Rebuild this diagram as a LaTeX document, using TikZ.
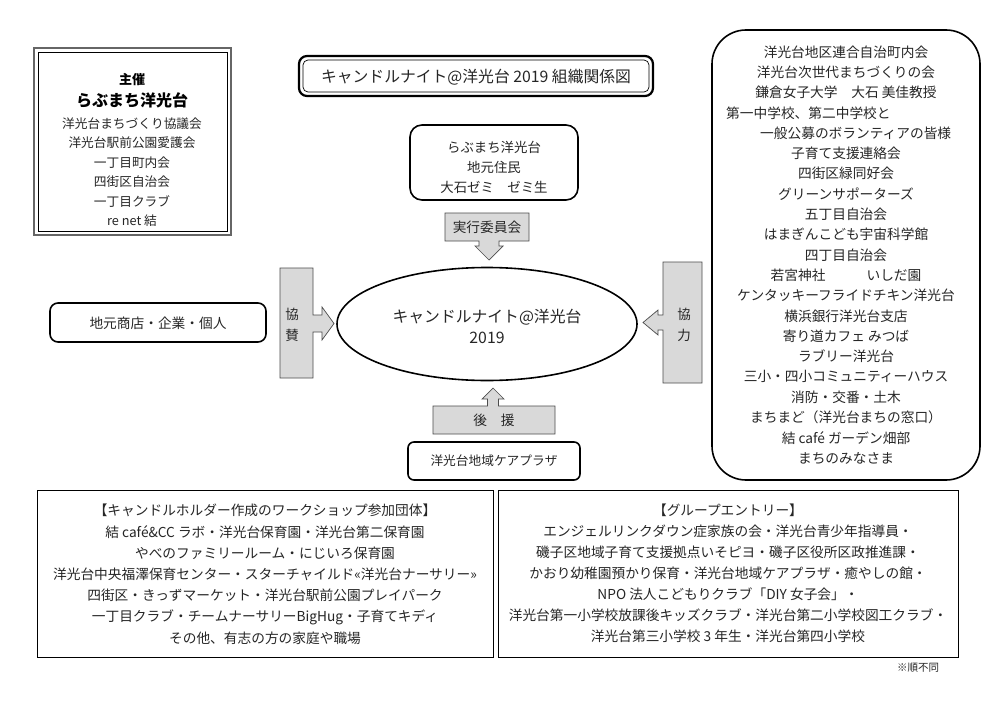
\documentclass[tikz,border=0pt]{standalone}
\usepackage{fontspec}
\setmainfont{Noto Sans CJK JP}
\usetikzlibrary{shapes.geometric,calc}
\begin{document}
\begin{tikzpicture}[x=1pt,y=-1pt,
  txt/.style={font=\fontsize{13.7}{20}\selectfont, text=black!85, inner sep=0pt},
  txts/.style={font=\fontsize{12.7}{20}\selectfont, text=black!85, inner sep=0pt},
  txtb/.style={font=\fontsize{13}{20}\selectfont\bfseries, text=black, inner sep=0pt},
  txtbig/.style={font=\fontsize{16}{20}\selectfont\bfseries, text=black, inner sep=0pt},
  rbox/.style={draw=black, line width=1.6pt, rounded corners=8pt},
  thinbox/.style={draw=black, line width=0.8pt},
  callout/.style={draw=black!70, fill=black!15, line width=0.7pt, line join=miter},
]
\useasboundingbox[fill=white] (0,0) rectangle (993,701);

% ---- left top box (organisers)
\draw[line width=2pt, draw=black!60] (34,48) rectangle (231,235);
\draw[line width=0.7pt] (38,52) rectangle (227,231);
\node[txtb] (shusai) at (132,80) {主催};
\node[txtbig] (rabu) at (132,100) {らぶまち洋光台};
\foreach \t [count=\i] in {洋光台まちづくり協議会,洋光台駅前公園愛護会,一丁目町内会,四街区自治会,一丁目クラブ,re net 結}
  \node[txts] (l\i) at (132,{123.5+(\i-1)*19.5}) {\t};

% ---- title
\draw[line width=2.2pt, rounded corners=8pt] (299,56) rectangle (653,96);
\draw[line width=0.7pt, rounded corners=5pt] (303,60) rectangle (649,92);
\node[txt, font=\fontsize{15.8}{20}\selectfont] (title) at (476,77) {キャンドルナイト@洋光台 2019 組織関係図};

% ---- center top box
\draw[rbox, rounded corners=12pt] (410,125) rectangle (578,200);
\node[txt, align=center, font=\fontsize{13.4}{20}\selectfont] (jimoto) at (494,167) {らぶまち洋光台\\地元住民\\大石ゼミ　ゼミ生};

% ---- callouts
\draw[callout] (445,213) -- (529,213) -- (529,241) -- (499,241) -- (499,246) -- (503,246) -- (489,260) -- (475,246) -- (479,246) -- (479,241) -- (445,241) -- cycle;
\node[txt] (jikko) at (487,227) {実行委員会};

\draw[callout] (433,406) -- (487.5,406) -- (487.5,399) -- (482,399) -- (493,388) -- (504,399) -- (498.5,399) -- (498.5,406) -- (555,406) -- (555,434) -- (433,434) -- cycle;
\node[txt] (koen) at (494,420.5) {後　援};

\draw[callout] (280,268) -- (313,268) -- (313,315) -- (322,315) -- (322,307) -- (334,323.5) -- (322,340) -- (322,332) -- (313,332) -- (313,378) -- (280,378) -- cycle;
\node[txt, align=center, font=\fontsize{13.5}{21}\selectfont] (kyosan) at (292,325) {協\\賛};

\draw[callout] (663,262) -- (702,262) -- (702,383) -- (663,383) -- (663,330) -- (658,330) -- (658,335) -- (643,322.5) -- (658,310) -- (658,315) -- (663,315) -- cycle;
\node[txt, align=center, font=\fontsize{13.5}{21}\selectfont] (kyoryoku) at (684,325) {協\\力};

% ---- ellipse
\node[draw, ellipse, line width=1.6pt, minimum width=300pt, minimum height=113pt, inner sep=0pt] (event) at (487,324) {};
\node[txt, align=center, font=\fontsize{15.8}{21}\selectfont] (eventtxt) at (487,326.5) {キャンドルナイト@洋光台\\2019};

% ---- left sponsor box
\draw[rbox] (50,303) rectangle (266,342);
\node[txt] (shoten) at (158,323) {地元商店・企業・個人};

% ---- care plaza box
\draw[rbox, rounded corners=6pt] (408,442) rectangle (580,480);
\node[txts] (care) at (494,461) {洋光台地域ケアプラザ};

% ---- right big box
\draw[draw=black, line width=1.6pt, rounded corners=34pt] (712,30) rectangle (980,480);
\foreach \t [count=\i] in {洋光台地区連合自治町内会,洋光台次世代まちづくりの会,鎌倉女子大学　大石 美佳教授}
  \node[txt] (ra\i) at (846,{52+(\i-1)*20.3}) {\t};
\node[txt, anchor=west] (ra4) at (726,112.9) {第一中学校、第二中学校と};
\node[txt, anchor=west] (ra5) at (760,133.2) {一般公募のボランティアの皆様};
\foreach \t [count=\i] in {子育て支援連絡会,四街区緑同好会,グリーンサポーターズ,五丁目自治会,はまぎんこども宇宙科学館,四丁目自治会,若宮神社　　　いしだ園,ケンタッキーフライドチキン洋光台,横浜銀行洋光台支店,寄り道カフェ みつば,ラブリー洋光台,三小・四小コミュニティーハウス,消防・交番・土木,まちまど（洋光台まちの窓口）,結 café ガーデン畑部,まちのみなさま}
  \node[txt] (rb\i) at (846,{153.5+(\i-1)*20.3}) {\t};

% ---- bottom boxes
\draw[thinbox] (37,490) rectangle (493,657);
\foreach \t [count=\i] in {【キャンドルホルダー作成のワークショップ参加団体】,結 café\&CC ラボ・洋光台保育園・洋光台第二保育園,やべのファミリールーム・にじいろ保育園,洋光台中央福澤保育センター・スターチャイルド«洋光台ナーサリー»,四街区・きっずマーケット・洋光台駅前公園プレイパーク,一丁目クラブ・チームナーサリーBigHug・子育てキディ,その他、有志の方の家庭や職場}
  \node[txt] (bl\i) at (265,{510.5+(\i-1)*21.3}) {\t};

\draw[thinbox] (498,490) rectangle (958,657);
\foreach \t [count=\i] in {【グループエントリー】,エンジェルリンクダウン症家族の会・洋光台青少年指導員・,磯子区地域子育て支援拠点いそピヨ・磯子区役所区政推進課・,かおり幼稚園預かり保育・洋光台地域ケアプラザ・癒やしの館・,NPO 法人こどもりクラブ「DIY 女子会」・,洋光台第一小学校放課後キッズクラブ・洋光台第二小学校図工クラブ・,洋光台第三小学校 3 年生・洋光台第四小学校}
  \node[txt] (br\i) at (728,{510.5+(\i-1)*21}) {\t};

\node[txt, font=\fontsize{10.5}{12}\selectfont] (note) at (918,668) {※順不同};
\end{tikzpicture}
\end{document}
